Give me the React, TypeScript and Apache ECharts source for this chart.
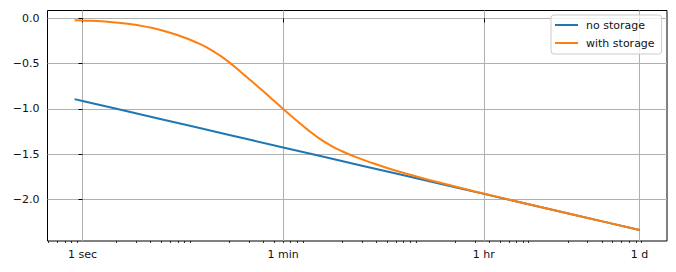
import React, { useEffect, useRef } from "react";
import * as echarts from "echarts";

// time in seconds
const noStorageTimes = [0.85, 1, 2, 5, 10, 20, 30, 60, 120, 300, 600, 1800, 3600, 7200, 21600, 43200, 86400];
const noStorageValues = [-0.892, -0.912, -0.999, -1.114, -1.201, -1.288, -1.339, -1.426, -1.513, -1.628, -1.715, -1.853, -1.94, -2.027, -2.165, -2.252, -2.339];

const withStorageTimes = [0.85, 1, 1.585, 2.512, 3.98, 5.01, 6.31, 7.94, 10, 12.59, 15.85, 19.95, 25.1, 31.6, 39.8, 50.1, 60, 79.4, 100, 125.9, 158.5, 199.5, 251, 355, 525, 891, 1479, 3600, 7200, 21600, 43200, 86400];
const withStorageValues = [-0.02, -0.022, -0.034, -0.058, -0.1, -0.13, -0.167, -0.21, -0.26, -0.32, -0.395, -0.485, -0.588, -0.695, -0.803, -0.913, -1.0, -1.13, -1.235, -1.328, -1.405, -1.468, -1.521, -1.591, -1.661, -1.744, -1.817, -1.936, -2.026, -2.165, -2.252, -2.339];

const majorTickSeconds = [1, 60, 3600, 86400];
const majorTickLabels = ["1 sec", "1 min", "1 hr", "1 d"];
const yTicks = [-2.0, -1.5, -1.0, -0.5, 0.0];
const seriesNames = ["no storage", "with storage"];

const X_MIN = -0.3103;
const X_MAX = 5.18;
const Y_MIN = -2.461;
const Y_MAX = 0.0884;

const FONT = "DejaVu Sans";

export default function App() {
  const ref = useRef<HTMLDivElement>(null);
  useEffect(() => {
    if (!ref.current) return;
    const chart = echarts.init(ref.current, null, { renderer: "svg" });
    const majorLog = majorTickSeconds.map((s) => Math.log10(s));
    const minorLog: number[] = [];
    for (let k = -1; k <= 5; k++) {
      for (let m = 2; m <= 9; m++) {
        const v = Math.log10(m * Math.pow(10, k));
        if (v > X_MIN && v < X_MAX) minorLog.push(v);
      }
    }
    const fmtX = (v: number) => {
      let best = 0;
      majorLog.forEach((m, i) => {
        if (Math.abs(m - v) < Math.abs(majorLog[best] - v)) best = i;
      });
      return majorTickLabels[best];
    };
    chart.setOption({
      animation: false,
      backgroundColor: "#ffffff",
      grid: {
        left: 47.5,
        top: 10.5,
        right: 9,
        bottom: 31,
        show: true,
        borderColor: "#000000",
        borderWidth: 1,
        backgroundColor: "transparent",
      },
      legend: {
        orient: "vertical",
        left: 551,
        top: 15,
        data: seriesNames,
        icon: "rect",
        itemWidth: 23,
        itemHeight: 2,
        itemGap: 6,
        padding: [4, 7, 5, 4],
        backgroundColor: "rgba(255,255,255,0.8)",
        borderColor: "#cccccc",
        borderWidth: 1,
        borderRadius: 3,
        textStyle: {
          fontFamily: FONT,
          fontSize: 11,
          color: "#111",
          lineHeight: 12,
          padding: [0, 0, 0, 3],
        },
      },
      xAxis: [
        {
          type: "value",
          min: X_MIN,
          max: X_MAX,
          axisLine: { show: false },
          axisTick: {
            show: true,
            customValues: majorLog,
            length: 4,
            lineStyle: { color: "#000", width: 1 },
          },
          axisLabel: {
            customValues: majorLog,
            formatter: fmtX,
            fontFamily: FONT,
            fontSize: 11,
            color: "#111",
            margin: 8,
          },
          splitLine: { show: true, lineStyle: { color: "#b0b0b0", width: 1 } },
        },
        {
          type: "value",
          min: X_MIN,
          max: X_MAX,
          position: "bottom",
          axisLine: { show: false },
          axisTick: {
            show: true,
            customValues: minorLog,
            length: 2,
            lineStyle: { color: "#000", width: 0.8 },
          },
          axisLabel: { show: false },
          splitLine: { show: false },
        },
      ],
      yAxis: {
        type: "value",
        min: Y_MIN,
        max: Y_MAX,
        axisLine: { show: false },
        axisTick: {
          show: true,
          customValues: yTicks,
          length: 4,
          lineStyle: { color: "#000", width: 1 },
        },
        axisLabel: {
          customValues: yTicks,
          formatter: (v: number) => v.toFixed(1).replace("-", "\u2212"),
          fontFamily: FONT,
          fontSize: 11,
          color: "#111",
          margin: 8,
        },
        splitLine: { show: true, lineStyle: { color: "#b0b0b0", width: 1 } },
      },
      series: [
        {
          name: seriesNames[0],
          type: "line",
          xAxisIndex: 0,
          data: noStorageTimes.map((t, i) => [Math.log10(t), noStorageValues[i]]),
          showSymbol: false,
          smooth: false,
          lineStyle: { color: "#1f77b4", width: 2 },
          itemStyle: { color: "#1f77b4" },
        },
        {
          name: seriesNames[1],
          type: "line",
          xAxisIndex: 0,
          data: withStorageTimes.map((t, i) => [Math.log10(t), withStorageValues[i]]),
          showSymbol: false,
          smooth: 0.5,
          lineStyle: { color: "#ff7f0e", width: 2 },
          itemStyle: { color: "#ff7f0e" },
        },
      ],
    });
    return () => chart.dispose();
  }, []);
  return <div ref={ref} style={{ width: 676, height: 272, position: "absolute", left: 0, top: 0 }} />;
}
